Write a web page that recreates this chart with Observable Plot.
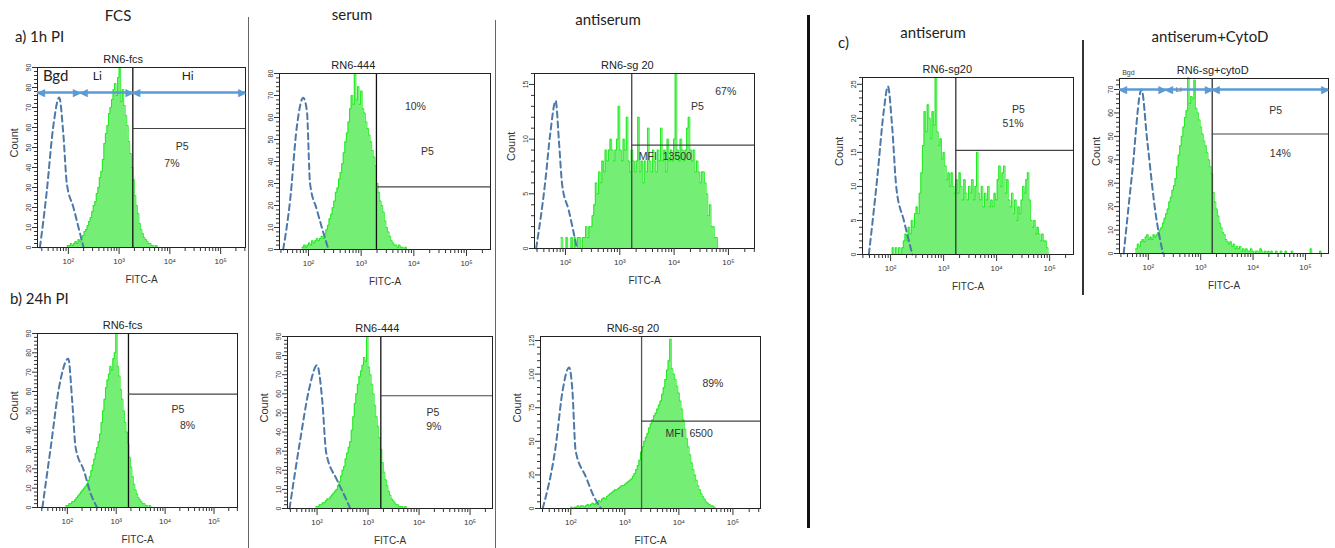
<!DOCTYPE html>
<html><head><meta charset="utf-8">
<script src="https://cdn.jsdelivr.net/npm/d3@7"></script>
<script src="https://cdn.jsdelivr.net/npm/@observablehq/plot@0.6"></script>
<style>
html,body{margin:0;padding:0;background:#fff;}
#root{position:relative;width:1335px;height:548px;overflow:hidden;font-family:Lato,"Open Sans",sans-serif;}
.hd{position:absolute;font-size:15px;color:#222;white-space:nowrap;line-height:1;}
.sep{position:absolute;}
.panel{position:absolute;}
</style></head><body><div id="root"></div>
<script>
// ---------- DATA ----------
// log10 bin width of all histograms
const binWidth = 0.03;
// x axis major ticks and labels
const xMajorTicks = [1e2, 1e3, 1e4, 1e5];
const xTickLabels = ["10²", "10³", "10⁴", "10⁵"];

const panelTitles = ["RN6-fcs", "RN6-444", "RN6-sg 20", "RN6-sg20", "RN6-sg+cytoD", "RN6-fcs", "RN6-444", "RN6-sg 20"];

// histogram counts (start = log10 of first bin)
const p1Start = 1.95;
const p1Counts = [0,1,1,2,1,2,3,2,4,3,5,6,8,9,11,13,15,18,21,23,27,30,35,38,44,52,57,61,67,70,74,79,82,76,85,90,73,79,71,66,61,53,47,40,34,26,21,17,12,9,7,5,4,3,2,2,1,1,0,1,0];
const p2Start = 1.88;
const p2Counts = [1,2,1,2,3,2,4,3,4,5,4,5,6,5,7,9,11,14,16,19,22,26,28,32,35,39,44,49,53,58,64,70,66,80,68,74,66,72,64,62,58,55,52,49,45,42,38,30,26,22,20,17,13,10,8,6,4,3,2,2,1,2,1,1,0,1,0];
const p3Start = 1.92;
const p3Counts = [1,0,0,1,0,0,1,0,1,0,1,1,0,1,1,2,1,2,2,3,4,6,5,7,6,8,7,9,8,9,10,9,8,9,10,13,9,8,10,9,12,8,7,9,8,7,8,12,7,8,6,8,7,11,8,7,9,8,7,9,8,11,8,9,7,10,8,9,8,10,16,9,8,10,9,8,9,11,12,9,8,9,7,8,7,6,7,7,6,5,3,4,2,2,1,1,0];
const p4Start = 2.0;
const p4Counts = [0,1,0,1,0,1,0,1,2,3,2,4,3,5,4,6,7,6,9,12,16,21,18,22,20,17,21,19,26,18,16,17,14,15,13,11,12,10,12,10,9,11,9,12,10,8,11,9,8,10,9,11,8,10,15,9,8,10,7,9,8,10,7,8,7,9,8,11,13,10,12,13,9,11,8,7,9,6,8,5,7,6,8,10,9,11,12,8,5,4,5,3,4,3,2,3,2,2,1,0];
const p5Start = 1.76;
const p5Counts = [2,4,3,5,6,5,7,8,6,7,6,8,7,8,9,10,11,13,15,17,19,22,24,27,29,32,37,42,46,50,54,58,61,75,64,67,66,74,62,60,57,54,51,48,46,43,40,37,34,26,22,19,16,13,11,9,8,6,5,4,5,3,4,2,3,2,3,1,2,1,2,1,1,2,1,0,1,1,0,2,1,0,1,0,1,0,1,0,0,1,0,0,1,0,0,1,0,0,0,1,0,0,0,0,0,0,0,0,0,0,0,2,0,0,0,0,0,1,0];
const p6Start = 1.97;
const p6Counts = [1,1,2,2,3,3,4,5,6,7,8,9,10,11,12,14,16,19,22,25,28,31,34,38,44,50,56,62,66,69,73,71,77,80,90,73,68,61,56,50,44,39,33,26,21,16,12,9,7,5,4,3,2,2,1,1,0,1,0];
const p7Start = 1.98;
const p7Counts = [1,1,2,2,3,3,4,5,5,6,7,8,9,10,12,14,17,20,22,26,29,32,35,41,48,55,60,65,69,72,75,79,77,90,74,70,65,60,54,48,43,37,31,24,19,15,12,9,7,5,4,3,2,2,1,1,1,0,1,0];
const p8Start = 2.0;
const p8Counts = [1,0,1,1,2,1,2,2,1,2,3,2,3,4,3,4,5,6,5,7,8,7,9,10,11,12,13,14,14,15,16,17,17,18,19,20,21,22,24,26,29,32,36,42,46,50,53,56,60,63,66,69,71,74,77,80,85,90,96,103,110,126,104,100,96,91,86,80,74,66,59,52,46,40,34,29,25,21,17,14,11,9,7,5,4,3,2,2,1,0];

// dashed control (unstained) curves: log10 positions and counts
const p1CtrlLog = [1.44,1.57,1.70,1.82,1.90,1.97,2.10,2.23,2.30];
const p1CtrlCount = [0,27,60,75,57,32,20,7,0];
const p2CtrlLog = [1.52,1.65,1.78,1.90,1.97,2.03,2.16,2.29,2.38];
const p2CtrlCount = [0,22,56,69,63,30,18,7,0];
const p3CtrlLog = [1.46,1.63,1.72,1.82,1.88,1.94,2.06,2.21];
const p3CtrlCount = [0,6.2,10.5,13.5,9.8,5.8,3.5,0];
const p4CtrlLog = [1.59,1.75,1.87,1.95,2.03,2.11,2.25,2.41];
const p4CtrlCount = [0,11.4,21,24.7,18.7,9.7,5,0];
const p5CtrlLog = [1.53,1.69,1.87,1.98,2.14,2.28];
const p5CtrlCount = [0,34,70,48,17,0];
const p6CtrlLog = [1.49,1.66,1.83,2.02,2.10,2.17,2.34,2.48,2.61];
const p6CtrlCount = [0,31,62,77,55,31,19,7,0];
const p7CtrlLog = [1.46,1.67,1.84,2.00,2.10,2.18,2.39,2.55,2.65];
const p7CtrlCount = [0,36,62,75,57,29,15,6,0];
const p8CtrlLog = [1.48,1.72,1.85,1.97,2.03,2.09,2.28,2.43,2.56];
const p8CtrlCount = [0,46,88,105,88,43,23.5,8.7,0];

// gate positions (log10 of vertical gate, count of horizontal line)
const gateLog = [3.27, 3.29, 3.22, 3.23, 3.22, 3.25, 3.25, 3.31];
const gateCount = [59.5, 28.5, 9.45, 15.3, 51, 58.6, 59, 65];

// in-panel labels
const p1Notes = [{t:"P5", lx:4.24, c:50.5}, {t:"7%", lx:4.04, c:42, bold:true}];
const p2Notes = [{t:"10%", lx:4.03, c:65}, {t:"P5", lx:4.26, c:44.5}];
const p3Notes = [{t:"P5", lx:4.43, c:13}, {t:"67%", lx:4.95, c:14.3}, {t:"MFI  13500", lx:3.84, c:8.4}];
const p4Notes = [{t:"P5", lx:4.41, c:21.3}, {t:"51%", lx:4.31, c:19.2}];
const p5Notes = [{t:"P5", lx:4.43, c:61}, {t:"14%", lx:4.52, c:42.7}];
const p6Notes = [{t:"P5", lx:4.26, c:50.7}, {t:"8%", lx:4.46, c:42.5}];
const p7Notes = [{t:"P5", lx:4.27, c:50.2}, {t:"9%", lx:4.29, c:43}];
const p8Notes = [{t:"89%", lx:4.63, c:93}, {t:"MFI  6500", lx:4.19, c:56}];

// Bgd / Li / Hi region markers
const regionNames = ["Bgd", "Li", "Hi"];
const p1RegionEdges = [1.392, 2.235, 3.27, 5.49];
const p1RegionCount = 77.5;
const p5RegionEdges = [1.45, 2.33, 3.22, 5.44];
const p5RegionCount = 70;

// headings
const headings = [
  {t:"FCS", x:118, y:16, c:true},
  {t:"a) 1h PI", x:15, y:37},
  {t:"serum", x:352, y:15, c:true},
  {t:"antiserum", x:608, y:20, c:true},
  {t:"c)", x:838, y:43},
  {t:"antiserum", x:933, y:33, c:true},
  {t:"antiserum+CytoD", x:1210, y:37, c:true},
  {t:"b) 24h PI", x:10, y:299}
];

// ---------- LAYOUT ----------
const panels = [
  {counts:p1Counts, start:p1Start, cl:p1CtrlLog, cc:p1CtrlCount, notes:p1Notes, left:37, right:245, top:67, bottom:247, lo:1.392, hi:5.49, ymax:90, yStep:10, yMinor:2, titleLog:3.08, count:true, gateColor:"#111", regions:{edges:p1RegionEdges, c:p1RegionCount, big:true}},
  {counts:p2Counts, start:p2Start, cl:p2CtrlLog, cc:p2CtrlCount, notes:p2Notes, left:279, right:490, top:73, bottom:249, lo:1.45, hi:5.455, ymax:80, yStep:10, yMinor:2, titleLog:2.85, count:false, gateColor:"#111"},
  {counts:p3Counts, start:p3Start, cl:p3CtrlLog, cc:p3CtrlCount, notes:p3Notes, left:534, right:754, top:73, bottom:248, lo:1.43, hi:5.48, ymax:16, yStep:5, yMinor:1, titleLog:3.14, count:true, gateColor:"#444"},
  {counts:p4Counts, start:p4Start, cl:p4CtrlLog, cc:p4CtrlCount, notes:p4Notes, left:862, right:1073, top:77, bottom:254, lo:1.47, hi:5.45, ymax:26, yStep:5, yMinor:1, titleLog:3.07, count:true, gateColor:"#333"},
  {counts:p5Counts, start:p5Start, cl:p5CtrlLog, cc:p5CtrlCount, notes:p5Notes, left:1119, right:1328, top:78, bottom:253, lo:1.45, hi:5.44, ymax:74.7, yStep:10, yMinor:2, titleLog:3.23, count:true, gateColor:"#333", regions:{edges:p5RegionEdges, c:p5RegionCount, big:false}},
  {counts:p6Counts, start:p6Start, cl:p6CtrlLog, cc:p6CtrlCount, notes:p6Notes, left:37, right:237, top:333, bottom:507, lo:1.39, hi:5.48, ymax:90, yStep:10, yMinor:2, titleLog:3.13, count:true, gateColor:"#111"},
  {counts:p7Counts, start:p7Start, cl:p7CtrlLog, cc:p7CtrlCount, notes:p7Notes, left:287, right:492, top:336, bottom:508, lo:1.42, hi:5.44, ymax:90, yStep:10, yMinor:2, titleLog:3.18, count:true, gateColor:"#111"},
  {counts:p8Counts, start:p8Start, cl:p8CtrlLog, cc:p8CtrlCount, notes:p8Notes, left:540, right:760, top:336, bottom:508, lo:1.44, hi:5.51, ymax:128, yStep:25, yMinor:5, titleLog:3.15, count:true, gateColor:"#555"}
];

const root = document.getElementById("root");
const ML = 42, MR = 14, MT = 24, MB = 46;
const blue = "#5b9bd5";

panels.forEach((p, k) => {
  const hist = p.counts.map((c, i) => ({x: 10 ** (p.start + i * binWidth), y: c}));
  hist.push({x: 10 ** (p.start + p.counts.length * binWidth), y: 0});
  const ctrl = p.cl.map((l, i) => ({x: 10 ** l, y: p.cc[i]}));
  const xd = [10 ** p.lo, 10 ** p.hi];
  const fw = p.right - p.left, fh = p.bottom - p.top;
  const minorX = d3.scaleLog().domain(xd).ticks().filter(v => Math.abs(Math.log10(v) - Math.round(Math.log10(v))) > 1e-6);
  const majorY = d3.range(0, p.ymax + 1e-6, p.yStep);
  const minorY = d3.range(0, p.ymax + 1e-6, p.yMinor).filter(v => Math.abs(v / p.yStep - Math.round(v / p.yStep)) > 1e-6);
  const gx = 10 ** gateLog[k];
  const marks = [
    Plot.areaY(hist, {x: "x", y: "y", curve: "step-after", fill: "#74ee74"}),
    Plot.lineY(hist, {x: "x", y: "y", curve: "step-after", stroke: "#0be80b", strokeWidth: 0.8}),
    Plot.line(ctrl, {x: "x", y: "y", curve: "monotone-x", stroke: "#4d79a8", strokeWidth: 2, strokeDasharray: "6,4"}),
    Plot.ruleX([gx], {stroke: p.gateColor, strokeWidth: 1.3}),
    Plot.ruleY([gateCount[k]], {x1: gx, x2: xd[1], stroke: "#444", strokeWidth: 1.2}),
    Plot.frame({stroke: "#222", strokeWidth: 1}),
    Plot.axisX({ticks: minorX, tickSize: 4, tickFormat: () => "", label: null, stroke: "#333"}),
    Plot.axisX({ticks: xMajorTicks, tickSize: 7, tickPadding: 4, tickFormat: d => xTickLabels[xMajorTicks.indexOf(d)], label: null, fontSize: 8, stroke: "#333"}),
    Plot.axisY({ticks: minorY, tickSize: 3, tickFormat: () => "", label: null, stroke: "#333"}),
    Plot.axisY({ticks: majorY, tickSize: 5, tickRotate: -90, tickPadding: 2, label: null, fontSize: 7, stroke: "#333"}),
    Plot.text(["FITC-A"], {text: d => d, frameAnchor: "bottom", dy: 35, fontSize: 10, fill: "#333"}),
    Plot.text([panelTitles[k]], {text: d => d, x: 10 ** p.titleLog, y: p.ymax, dy: -8, fontSize: 11, fill: "#222"}),
    Plot.text(p.notes, {text: "t", x: d => 10 ** d.lx, y: "c", fontSize: 10.5, fill: "#333", fontWeight: d => d.bold ? "bold" : "normal"})
  ];
  if (p.count) marks.push(Plot.text(["Count"], {text: d => d, frameAnchor: "left", dx: -23, rotate: -90, fontSize: 11, fill: "#333"}));
  if (p.regions) {
    const e = p.regions.edges, c = p.regions.c;
    const segs = regionNames.map((n, i) => ({n, x1: 10 ** e[i], x2: 10 ** e[i + 1]}));
    marks.push(Plot.ruleY(segs, {x1: "x1", x2: "x2", y: c, stroke: blue, strokeWidth: 2.5}));
    const heads = [];
    segs.forEach(s => { heads.push({x: s.x1, g: "◀", a: "start"}); heads.push({x: s.x2, g: "▶", a: "end"}); });
    marks.push(Plot.text(heads.filter(h => h.a === "start"), {x: "x", y: c, text: "g", textAnchor: "start", fontSize: 11, fill: blue, fontFamily: "DejaVu Sans", dx: -1}));
    marks.push(Plot.text(heads.filter(h => h.a === "end"), {x: "x", y: c, text: "g", textAnchor: "end", fontSize: 11, fill: blue, fontFamily: "DejaVu Sans", dx: 1}));
    if (p.regions.big) {
      const lbl = [{t: "Bgd", x: 10 ** 1.75}, {t: "Li", x: 10 ** 2.57}, {t: "Hi", x: 10 ** 4.35}];
      marks.push(Plot.text(lbl, {x: "x", y: p.ymax, dy: 9, text: "t", fontSize: d => d.t === "Bgd" ? 15 : 12, fontFamily: "Lato, 'Open Sans', sans-serif", fill: "#222"}));
    } else {
      marks.push(Plot.text([{t: "Bgd", x: 10 ** 1.62}], {x: "x", y: p.ymax, dy: -6, text: "t", fontSize: 7, fill: "#444"}));
      marks.push(Plot.text([{t: "Li", x: 10 ** 2.58}], {x: "x", y: c, text: "t", fontSize: 8, fill: "#777"}));
    }
  }
  const svg = Plot.plot({
    width: fw + ML + MR, height: fh + MT + MB,
    marginLeft: ML, marginRight: MR, marginTop: MT, marginBottom: MB,
    style: {background: "transparent", overflow: "visible", fontFamily: "'Liberation Sans', Arial, sans-serif", fontSize: "8px", color: "#333", maxWidth: "none"},
    x: {type: "log", domain: xd},
    y: {domain: [0, p.ymax]},
    marks
  });
  const div = document.createElement("div");
  div.className = "panel";
  div.style.left = (p.left - ML) + "px";
  div.style.top = (p.top - MT) + "px";
  div.appendChild(svg);
  root.appendChild(div);
});

// separators
[{x:247.5, y1:17, y2:548, w:1.5, c:"#666"}, {x:494.5, y1:20, y2:548, w:1.5, c:"#666"}, {x:806.5, y1:15, y2:528, w:3, c:"#111"}, {x:1082, y1:40, y2:295, w:2, c:"#333"}].forEach(s => {
  const d = document.createElement("div");
  d.className = "sep";
  Object.assign(d.style, {left: s.x + "px", top: s.y1 + "px", width: s.w + "px", height: (s.y2 - s.y1) + "px", background: s.c});
  root.appendChild(d);
});

headings.forEach(h => {
  const d = document.createElement("div");
  d.className = "hd";
  d.textContent = h.t;
  d.style.left = h.x + "px";
  d.style.top = (h.y - 8) + "px";
  if (h.c) d.style.transform = "translateX(-50%)";
  root.appendChild(d);
});
</script>
</body></html>
